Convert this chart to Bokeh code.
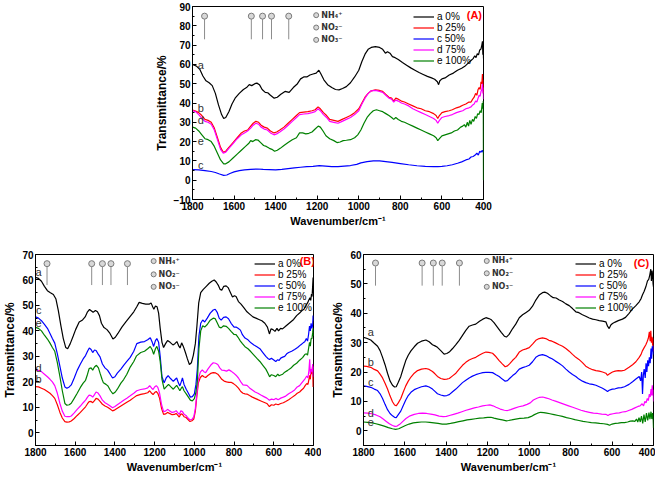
from bokeh.plotting import figure
from bokeh.models import Range1d, FixedTicker, Legend, LegendItem
from bokeh.layouts import column, row
from bokeh.embed import file_html
from bokeh.resources import INLINE
from bokeh.core.properties import value

FONT = "Liberation Sans"
COLORS = {"a": "#000000", "b": "#ff0000", "c": "#0000ff", "d": "#ff00ff", "e": "#008000"}
LEGEND_LABELS = {"a": "a 0%", "b": "b 25%", "c": "c 50%", "d": "d 75%", "e": "e 100%"}
X_TICKS = [1800, 1600, 1400, 1200, 1000, 800, 600, 400]
X_MINOR = [1700, 1500, 1300, 1100, 900, 700, 500]

# peak-marker wavenumbers (cm-1) and ion legend
MARK_W = [1742, 1517, 1463, 1420, 1337]
ION_LABELS = ["NH₄⁺", "NO₂⁻", "NO₃⁻"]

# ---------------- Panel A ----------------
A_a = [(1800,60),(1780,59),(1765,57.5),(1750,54),(1735,51.5),(1720,50.5),(1705,49),(1690,45),(1675,39),(1660,34),(1650,32),(1640,32.5),(1625,35.5),(1610,39.5),(1595,42.5),(1575,45),(1555,47),(1540,48),(1527,49.5),(1515,49),(1500,50),(1490,50.3),(1478,49.5),(1465,47),(1450,45.5),(1438,45.3),(1425,44),(1407,42.5),(1392,43),(1375,44.5),(1355,46),(1335,45.5),(1315,48),(1295,50),(1280,52.5),(1265,53.5),(1250,53.5),(1235,54.5),(1220,55),(1205,55.5),(1192,57),(1182,55),(1168,52),(1150,49.5),(1130,48),(1112,47),(1095,46.8),(1078,47.5),(1060,48.5),(1040,50.5),(1020,53.5),(1000,57),(985,61.5),(970,65.3),(955,67.8),(940,68.8),(920,69.2),(900,68.8),(885,67.8),(872,65.8),(862,66.6),(850,65.8),(838,64),(825,63.5),(810,62.5),(790,61),(770,59.6),(750,58.2),(730,57),(710,55.8),(690,54.8),(670,53.8),(650,53),(635,52.3),(622,51),(616,49.5),(610,51.5),(600,52.5),(585,53),(565,54.5),(545,55.5),(525,57),(505,58),(490,59),(475,60.5),(460,62),(450,63),(442,64.5),(436,63.5),(430,65.5),(424,65),(418,67.5),(412,68),(408,70),(405,72),(403,65),(401,69),(400,63)]
A_b = [(1800,36.3),(1785,35.8),(1770,35),(1755,33.5),(1740,31.5),(1725,31),(1710,30),(1695,27),(1680,22),(1665,17),(1652,14.5),(1640,15),(1625,17),(1605,19.5),(1585,22),(1565,24.5),(1550,25.5),(1535,26),(1520,28),(1508,29.5),(1495,30.5),(1482,30),(1470,28.5),(1455,27.5),(1440,27),(1425,25.5),(1408,24.5),(1395,25),(1380,26),(1360,27.5),(1340,29.5),(1320,31.5),(1300,33.5),(1285,35),(1265,35.3),(1245,35.5),(1225,36),(1210,36.5),(1196,38),(1185,37),(1170,35),(1155,33.5),(1140,31.5),(1120,31),(1100,30.5),(1080,31.5),(1060,32.5),(1040,33.5),(1020,35),(1000,37),(985,40),(970,43),(955,45),(940,46.3),(920,46.8),(900,46.5),(885,46),(870,44.5),(855,43),(842,42.5),(832,41),(822,42.5),(810,42),(795,41),(780,40.5),(760,39.5),(740,38.5),(720,37.5),(700,37),(680,36),(660,35.5),(640,34.5),(628,33.5),(620,32),(612,33.5),(600,35),(585,35.5),(565,36),(550,36.5),(530,37.5),(515,38),(500,38.8),(485,39.5),(470,40.5),(460,40.5),(452,42),(445,43),(438,45),(432,44),(426,47),(421,48),(416,47),(412,51),(408,50),(405,55),(403,48),(401,52),(400,45)]
A_c = [(1800,5.5),(1770,5.3),(1740,5),(1710,4.5),(1690,4),(1670,3.2),(1650,2.5),(1635,2.7),(1620,3.5),(1600,4.3),(1575,5),(1550,5.3),(1520,5.6),(1490,5.8),(1460,5.6),(1430,5.5),(1400,5.4),(1370,5.6),(1340,6),(1310,6.4),(1280,6.7),(1250,7),(1220,7.2),(1190,7.6),(1160,7.3),(1130,7),(1100,7),(1070,7.3),(1040,7.6),(1010,8.2),(990,9),(960,9.6),(930,10),(900,10),(870,9.6),(840,9.2),(800,8.6),(760,8),(720,7.5),(680,7.2),(640,7),(620,7),(600,7.2),(575,7.5),(550,8),(525,8.8),(505,9.5),(485,10.5),(470,11),(460,12),(450,12.3),(440,13),(432,14),(425,13),(418,15),(412,14.5),(406,15.5),(402,14.5),(400,15)]
A_d = [(1800,36),(1785,35.5),(1770,34),(1755,32),(1740,30.5),(1725,30),(1710,29),(1695,26),(1680,21),(1665,16),(1652,14),(1640,14.5),(1625,16.5),(1605,19),(1585,21.5),(1565,23.5),(1550,24.5),(1535,25.5),(1520,27),(1508,28.5),(1495,29.5),(1482,29),(1470,27.5),(1455,26.5),(1440,26),(1425,24.5),(1408,23.5),(1395,24),(1380,25),(1360,26.5),(1340,28.5),(1320,30.5),(1300,32.5),(1285,34),(1265,34.3),(1245,34.5),(1225,35),(1210,35.5),(1196,37),(1185,36),(1170,34),(1155,32.5),(1140,30.5),(1120,30),(1100,29.5),(1080,30.5),(1060,31.5),(1040,32.5),(1020,34),(1000,36),(985,39.5),(970,42.5),(955,45),(940,46.3),(920,46.5),(900,46),(885,45.5),(870,44),(855,42.5),(842,42),(832,40.5),(822,41.5),(810,41),(795,40),(780,39.5),(760,38.5),(740,37),(720,36),(700,35),(680,34),(660,33),(640,32),(628,31),(620,29.5),(612,31),(600,32.5),(585,33),(565,33.5),(550,34),(530,35),(515,35.5),(500,36),(485,37),(470,37.5),(460,38),(452,39),(445,39.5),(438,41),(432,40.5),(426,42.5),(421,44),(416,43.5),(412,46),(408,47),(405,50),(403,45),(401,48),(400,42)]
A_e = [(1800,27.5),(1785,27),(1770,25.5),(1755,23.5),(1740,21.5),(1725,21),(1710,20),(1695,17.5),(1680,14),(1665,10.5),(1650,8.5),(1640,8.5),(1625,9.5),(1605,11.5),(1585,13.5),(1565,15.5),(1545,17.5),(1530,19),(1520,20.5),(1510,20),(1497,21),(1485,20.8),(1472,19.5),(1458,18),(1445,17.5),(1430,16.5),(1418,16),(1405,15),(1392,15.5),(1378,16.5),(1360,18),(1340,19.5),(1320,21),(1300,22),(1285,24.5),(1270,24.5),(1255,24),(1240,24.3),(1225,25),(1210,26.5),(1195,28),(1185,27.5),(1172,25.5),(1158,23),(1140,21.5),(1120,20.5),(1105,19.5),(1090,19.8),(1075,20.5),(1060,20.7),(1040,21),(1020,22),(1005,23.5),(990,26),(975,29.5),(960,32.5),(945,34.5),(930,36),(915,36.5),(900,36),(885,35.5),(870,34.5),(855,33.5),(842,32.5),(832,31.5),(822,32.5),(810,31.5),(795,30.5),(780,30),(760,29),(740,28),(720,27),(700,26),(680,25),(660,24),(640,23),(628,22),(620,20.5),(612,21.5),(600,23),(585,23.5),(570,24),(555,24.5),(540,25.5),(525,26),(510,27.5),(500,28),(492,28.8),(485,27.5),(478,30),(472,28),(466,31),(460,29),(453,31.5),(447,30.5),(440,33),(434,32),(428,34.5),(422,34),(416,36),(411,35),(406,40),(403,37),(401,41),(400,0)]

# ---------------- Panel B ----------------
B_a = [(1800,61),(1785,60.6),(1770,59.5),(1755,57.5),(1740,55.8),(1725,55),(1710,54.3),(1697,52.5),(1685,48),(1672,42),(1660,37),(1648,33.5),(1638,33),(1625,35),(1610,38),(1598,40.5),(1580,43.5),(1563,44.3),(1550,45.5),(1538,47.5),(1528,48.4),(1518,47.8),(1510,47.3),(1498,48),(1488,47.5),(1478,46),(1468,43),(1455,41.3),(1440,40.5),(1425,39),(1410,36.8),(1398,37.5),(1385,39),(1365,41.5),(1345,43.5),(1325,45.5),(1305,47.5),(1290,49.5),(1278,51.2),(1262,50.8),(1245,50.5),(1228,50.5),(1218,51),(1210,49.5),(1204,48.5),(1196,49.8),(1188,49.5),(1180,47),(1172,41),(1163,35.5),(1155,33.5),(1145,35),(1135,36.2),(1122,35.5),(1108,34.5),(1098,35),(1088,35.8),(1078,34),(1072,33.3),(1064,35.3),(1056,34),(1045,31.5),(1035,29),(1025,26.8),(1015,27.5),(1005,30.5),(995,35),(987,42),(978,51),(968,55),(955,56.3),(940,57.5),(925,58.7),(912,59.5),(900,60),(890,59.2),(880,58),(870,56.3),(862,56),(852,57.5),(840,57.7),(830,57),(818,55),(808,53.3),(798,53.8),(790,53.5),(778,51.5),(765,50.5),(750,49),(735,47.5),(720,46.5),(705,45.5),(690,45),(675,44.5),(660,44),(645,43),(632,41.5),(622,38.8),(614,40.8),(604,40.5),(594,39.8),(584,41),(576,40),(566,41),(556,40.8),(545,41.5),(530,42.5),(515,43.5),(500,44.5),(485,46),(470,47),(458,48),(448,48.5),(438,50),(430,51),(424,52),(418,53),(414,52),(410,54.5),(407,53.5),(404,58),(402,61),(400,55)]
B_b = [(1800,18.1),(1785,18),(1770,17.5),(1755,17),(1740,16.2),(1727,15.5),(1715,14.6),(1703,13.5),(1690,11),(1677,8),(1665,5.8),(1652,4.4),(1642,4.2),(1630,4.3),(1620,4.6),(1605,5.6),(1590,6.8),(1574,8),(1560,9.2),(1548,10.2),(1538,11.4),(1530,12.2),(1520,12.3),(1512,11.8),(1503,12.6),(1495,13.5),(1485,13.2),(1475,12.3),(1463,11.2),(1450,10.5),(1437,10),(1424,9.3),(1412,8.6),(1400,9),(1388,9.6),(1370,10.5),(1356,11.2),(1340,12),(1323,12.8),(1305,13.8),(1290,14.6),(1270,15.1),(1251,15.4),(1235,15.7),(1225,16.5),(1215,15.5),(1208,15),(1200,15.8),(1192,16.2),(1184,15.5),(1175,13.5),(1165,9.5),(1155,7.2),(1145,7.4),(1135,8),(1125,7.6),(1112,7.1),(1100,7.2),(1092,7.6),(1083,6.8),(1076,6.2),(1068,7.4),(1060,7.2),(1052,6.3),(1042,6),(1032,5.2),(1022,4.4),(1012,4.7),(1003,5.4),(995,8.5),(988,14),(980,19.5),(970,21.7),(960,22.5),(952,22),(943,21.7),(932,22.5),(918,23.3),(905,23.6),(893,23.5),(882,23),(872,22),(862,21),(850,20.3),(838,20),(826,19.8),(815,19.8),(803,19.3),(790,18.5),(778,17.5),(766,16.2),(755,15.5),(745,15.3),(735,15.2),(722,14.6),(708,14),(694,13.5),(680,13),(665,12.5),(650,12),(635,11.5),(622,10.3),(612,11),(600,10.8),(590,11.3),(578,11),(565,11.5),(552,11.8),(540,12.3),(525,13),(510,13.8),(495,14.6),(482,15.5),(470,16),(460,16.8),(450,17.5),(442,18.5),(434,19.3),(428,19),(423,21),(419,22.5),(416,21),(412,25),(408,23),(404,26.5),(402,18),(400,22)]
B_c = [(1800,45.5),(1785,45),(1770,44),(1755,42.6),(1740,41),(1727,39),(1715,37),(1703,35.2),(1690,31),(1678,26.5),(1665,21.5),(1652,18),(1642,17.5),(1630,18),(1620,18.8),(1605,21.5),(1590,24.5),(1574,27),(1560,29),(1548,30.3),(1538,32),(1529,33.3),(1520,32.7),(1512,31.5),(1503,32.5),(1495,32.3),(1485,31),(1475,29.8),(1463,27),(1450,25.5),(1437,24.6),(1424,23),(1412,21.5),(1400,22),(1388,23.4),(1370,25),(1356,26.5),(1340,28),(1323,29.6),(1305,32),(1290,35),(1270,35.6),(1251,35.8),(1235,36.5),(1222,37.3),(1212,35.5),(1205,33.9),(1196,36.2),(1189,37),(1180,35.5),(1172,30),(1163,22),(1152,19.6),(1142,21.5),(1132,22.4),(1120,21.3),(1106,20.2),(1096,21),(1089,21.5),(1080,19.5),(1073,18.4),(1066,20),(1060,21.5),(1052,19),(1041,17.1),(1030,15.5),(1020,14),(1010,14.2),(1000,15.3),(992,19),(985,25),(977,38),(968,43),(958,44.3),(948,43.5),(935,45),(920,47),(905,48.2),(895,48.5),(885,47.3),(875,45),(865,44.2),(853,45.3),(840,45.5),(828,44.8),(815,43),(800,41.5),(790,41.5),(780,41),(768,40.3),(758,38.5),(745,37.2),(730,36.5),(715,35.3),(700,34.5),(685,33.8),(670,33),(655,31.5),(640,30),(630,29.2),(621,28.8),(612,29.3),(600,28.6),(590,28),(580,28.7),(573,28.4),(565,29.3),(555,29.7),(545,30),(535,31),(525,31.5),(510,32),(495,32.7),(480,33.5),(465,34.5),(452,35.3),(444,35.7),(436,37),(430,36),(425,38.5),(420,41.9),(416,40),(412,43),(408,41),(404,42.5),(402,46),(400,44)]
B_d = [(1800,24.6),(1785,24.5),(1770,24),(1755,23),(1740,22),(1727,21),(1715,20),(1703,18.5),(1690,15.5),(1677,11.5),(1665,8.5),(1652,6.5),(1642,6.3),(1630,6.3),(1620,6.6),(1605,7.8),(1590,9.2),(1574,10.5),(1560,11.8),(1548,12.8),(1538,14),(1530,14.8),(1520,14.6),(1512,14),(1503,15),(1495,16),(1485,15.6),(1475,14.5),(1463,12.8),(1450,11.8),(1437,11.2),(1424,10.5),(1412,9.8),(1400,10.3),(1388,11),(1370,12),(1356,12.8),(1340,13.6),(1323,14.5),(1305,15.5),(1290,16.5),(1270,17),(1251,17.2),(1235,17.6),(1225,18.5),(1215,17.5),(1208,17),(1200,18),(1192,18.5),(1184,17.8),(1175,15.5),(1165,11),(1155,8.3),(1145,8.5),(1135,9.2),(1125,8.6),(1112,8),(1100,8.2),(1092,8.7),(1083,7.8),(1076,7.2),(1068,8.6),(1060,8.3),(1052,7.3),(1042,6.8),(1032,5.8),(1022,5),(1012,5.3),(1003,6.2),(995,9.5),(988,15),(980,21),(970,23.8),(960,24.7),(952,24),(943,23.6),(932,25),(918,26.5),(905,27.5),(893,27.3),(882,26.8),(872,25.5),(862,24.6),(850,24.5),(838,24.2),(826,24.7),(815,24.2),(803,23.5),(790,22.6),(778,21.5),(766,20),(755,18.8),(745,18.7),(735,18.6),(722,17.6),(708,16.8),(694,16),(680,15.5),(665,14.8),(650,14.2),(635,13.6),(622,12.8),(612,13.2),(600,13),(590,13.5),(578,13),(565,13.6),(552,14),(540,14.4),(525,15.3),(510,16),(495,16.8),(482,18),(470,18.5),(460,19.5),(450,20.5),(442,21.3),(434,22.3),(428,21.5),(423,24.5),(419,28.9),(416,23),(412,25),(408,24),(404,27),(402,22),(400,26)]
B_e = [(1800,41.4),(1785,41),(1770,40),(1755,38.3),(1740,36.8),(1727,35.2),(1715,33.5),(1703,32),(1690,27.5),(1677,22),(1665,16.5),(1652,11.5),(1642,10.8),(1630,11),(1620,11.6),(1605,13.5),(1590,15.5),(1574,17.8),(1560,19.5),(1548,20.6),(1538,23),(1530,25.2),(1520,25.5),(1512,24.6),(1503,25.8),(1493,26.5),(1483,25.5),(1475,23.4),(1465,21),(1458,19.6),(1445,19),(1435,18.4),(1422,16.5),(1410,15.3),(1398,16),(1388,17.1),(1370,19.5),(1356,20.9),(1340,23),(1323,25.8),(1305,28),(1291,30.2),(1270,31.5),(1251,32),(1235,33),(1222,33.9),(1212,32.5),(1205,30.8),(1196,33),(1189,33.9),(1180,32),(1172,28),(1163,21),(1152,17.1),(1142,18),(1130,19),(1118,18),(1106,17.1),(1096,18),(1089,18.6),(1080,17.5),(1073,16.5),(1066,17.5),(1060,18.1),(1052,16.5),(1041,15.3),(1030,14),(1020,12.8),(1010,12.5),(1000,13.4),(992,16),(985,20.2),(977,33),(968,40),(958,42),(948,41.5),(935,42.5),(920,44.2),(905,45),(895,44.8),(885,43.2),(875,41.5),(865,41.2),(853,42),(840,41.8),(828,41),(815,39.8),(800,38.6),(790,38.5),(780,37.5),(768,36),(758,35),(745,33.8),(730,33),(715,31.8),(700,30.5),(685,29.2),(670,28),(655,26.5),(640,25),(630,23.5),(621,22),(612,22.8),(600,22.5),(590,22),(580,23),(573,22.4),(565,22.7),(555,23),(545,23.8),(530,24.5),(515,25.3),(500,26.5),(485,27.3),(470,28.5),(455,29.5),(444,30.7),(436,31),(430,30.5),(425,33),(420,35.5),(416,34),(412,37),(408,36.9),(404,39.4),(402,41),(400,38)]

# ---------------- Panel C ----------------
C_a = [(1800,31.8),(1785,31.5),(1765,30.9),(1748,29.8),(1732,28.8),(1720,27.3),(1708,25),(1696,22.5),(1684,19.6),(1672,17),(1660,15.5),(1650,14.9),(1642,15),(1632,16.5),(1620,18.5),(1608,21.3),(1596,23.9),(1584,25.7),(1571,27.2),(1555,28.6),(1539,29.8),(1520,30.5),(1499,30.9),(1483,30.3),(1467,29.3),(1455,28.9),(1443,28.4),(1427,27.3),(1411,26.1),(1398,26.3),(1386,26.8),(1370,28),(1354,29.3),(1338,30.8),(1322,32.5),(1306,34.2),(1290,35.6),(1274,36),(1258,36.3),(1240,37.3),(1224,38),(1209,38.5),(1195,38.2),(1185,37.9),(1170,36.8),(1153,35.2),(1135,33.5),(1120,32.2),(1110,31.9),(1097,32.8),(1080,34.8),(1065,36.3),(1048,38.5),(1032,39.5),(1015,40.3),(1000,41),(984,42.4),(968,44.5),(952,46.2),(936,47),(925,47.2),(912,46.8),(898,46),(884,45.3),(870,45.2),(855,44.5),(839,44),(823,43.2),(807,42.6),(791,41.6),(775,40.5),(760,40.2),(743,39.5),(727,39),(710,38.4),(694,38),(678,37.8),(662,37.5),(646,37.3),(630,37.1),(622,35.6),(614,34.8),(606,36),(598,36.5),(585,37),(570,37.5),(550,38),(535,38.6),(518,40),(501,41.5),(485,42.6),(469,43.9),(460,45),(453,46.3),(445,47.5),(437,49),(429,51),(423,51.5),(418,53),(413,55),(410,51),(407,54.5),(404,53),(402,50),(400,49)]
C_b = [(1800,22),(1785,21.9),(1765,21.6),(1748,20.9),(1732,20.4),(1720,19.3),(1708,18),(1696,16.2),(1684,14.2),(1672,11.9),(1660,9.9),(1650,8.8),(1642,8.5),(1632,9.5),(1620,11),(1608,13.2),(1596,15.3),(1584,16.9),(1571,18.3),(1555,19.6),(1539,20.5),(1520,21),(1499,21.2),(1483,20.9),(1467,20.2),(1455,19.4),(1443,18.5),(1427,17.8),(1411,17.5),(1398,17.6),(1386,17.8),(1370,18.7),(1354,19.6),(1338,21),(1322,22.3),(1306,23.3),(1290,24.1),(1274,24.6),(1258,25),(1240,25.8),(1224,26.4),(1209,26.8),(1195,26.7),(1177,26.4),(1160,25.2),(1145,23.9),(1130,22.8),(1116,21.8),(1105,22.1),(1095,22.8),(1080,24),(1065,25),(1048,26.8),(1032,27.5),(1015,27.9),(1000,28.3),(984,29.5),(968,30.8),(952,31.4),(936,31.6),(920,31.4),(905,30.8),(890,30.5),(875,30),(855,29.3),(839,28.8),(823,28),(807,27.1),(791,26),(775,25),(760,24.3),(743,23.2),(727,22),(710,21.3),(694,20.8),(678,20.5),(662,20.3),(646,20),(630,19.6),(622,18.9),(614,19.3),(606,19.7),(598,20),(585,20.3),(570,20.5),(555,20.4),(540,20.6),(518,21.6),(501,22.5),(485,23.5),(469,25),(460,26),(453,27.3),(445,28.3),(437,29.3),(430,30.5),(425,31.5),(420,33.7),(416,30.5),(413,34),(410,30),(407,32),(404,29),(402,31.5),(400,27)]
C_c = [(1800,15.3),(1785,15.1),(1765,14.8),(1748,14.2),(1732,13.7),(1720,12.6),(1708,11),(1696,9),(1684,7.2),(1672,5.9),(1660,5.1),(1650,4.6),(1642,4.5),(1632,5.5),(1620,6.7),(1608,8.6),(1596,10.5),(1584,12),(1571,13.1),(1555,14),(1539,14.5),(1520,15),(1499,15.3),(1483,14.9),(1467,14.2),(1455,13.4),(1443,12.6),(1427,12.2),(1411,11.9),(1398,12),(1386,12.3),(1370,13.3),(1354,14.2),(1338,15.3),(1322,16.4),(1306,17.2),(1290,18),(1274,18.6),(1258,19.1),(1240,19.5),(1224,19.8),(1209,19.9),(1195,19.9),(1177,19.8),(1160,19.1),(1145,18.5),(1130,17.6),(1116,16.9),(1105,17.1),(1095,17.8),(1080,18.8),(1065,19.6),(1048,21),(1032,21.5),(1015,21.9),(1000,22.3),(984,23.5),(968,25),(952,25.7),(936,25.9),(920,25.6),(905,25),(890,24.5),(875,23.8),(855,22.9),(839,22.1),(823,21),(807,20),(791,19.2),(775,18.5),(760,17.6),(743,16.9),(727,16.4),(710,16),(694,15.8),(678,15.5),(662,15),(646,14.5),(630,13.8),(622,13.4),(614,13.8),(606,14),(598,14.2),(585,14.3),(570,14.6),(555,14.7),(540,15),(518,15.8),(501,16.7),(485,17.6),(469,18.5),(462,17),(457,20),(453,12.5),(449,19),(445,21),(440,18),(436,23),(432,20),(428,24),(424,22),(420,25),(416,23),(412,28),(409,24.5),(406,28.8),(403,27),(401,29),(400,26)]
C_d = [(1800,6.1),(1780,6),(1760,5.8),(1740,5.4),(1720,4.8),(1705,4),(1690,3.2),(1675,2.4),(1660,1.8),(1648,1.5),(1638,1.6),(1625,2.2),(1610,3.2),(1595,4.2),(1575,5.1),(1555,5.6),(1535,5.9),(1515,6),(1495,5.9),(1475,5.7),(1455,5.4),(1435,5),(1415,4.8),(1400,4.9),(1385,5.2),(1365,5.6),(1345,6),(1325,6.5),(1305,7),(1285,7.4),(1265,7.8),(1245,8.1),(1225,8.5),(1205,8.7),(1190,8.8),(1175,8.5),(1160,8),(1140,7.4),(1120,7),(1105,6.9),(1090,7.2),(1070,7.7),(1050,8.2),(1030,8.5),(1010,9),(995,9.5),(980,10.5),(965,11),(950,11.4),(935,11.5),(920,11.2),(905,10.9),(890,10.5),(870,10),(850,9.5),(830,9),(810,8.5),(790,8),(770,7.5),(750,7),(730,6.6),(710,6.3),(690,6),(670,5.9),(650,5.7),(630,5.6),(620,5.2),(610,5.6),(595,5.8),(580,6),(565,6.1),(550,6.4),(535,6.5),(520,6.9),(505,7.3),(490,7.8),(475,8.3),(465,8.5),(455,9.2),(448,8.5),(442,10),(436,9.5),(430,11),(425,10.3),(420,12.5),(416,11.5),(412,14.2),(409,12),(406,15.5),(403,12),(401,14),(400,10)]
C_e = [(1800,3),(1780,2.9),(1760,2.7),(1740,2.4),(1720,2),(1700,1.6),(1680,1.1),(1660,0.7),(1645,0.5),(1630,0.7),(1615,1.2),(1600,1.7),(1580,2.3),(1560,2.7),(1540,2.9),(1520,3),(1500,3),(1480,2.9),(1460,2.7),(1440,2.5),(1420,2.3),(1400,2.3),(1380,2.5),(1360,2.8),(1340,3.1),(1320,3.4),(1300,3.7),(1280,3.9),(1260,4.1),(1240,4.3),(1220,4.4),(1200,4.6),(1185,4.6),(1170,4.3),(1150,4),(1130,3.7),(1110,3.4),(1100,3.5),(1085,3.7),(1065,4),(1045,4.2),(1025,4.3),(1005,4.5),(990,4.9),(975,5.5),(960,6),(945,6.3),(930,6.2),(915,6),(900,5.8),(880,5.5),(860,5.2),(840,4.9),(820,4.5),(800,4.2),(780,3.8),(760,3.5),(740,3.2),(720,3),(700,2.8),(680,2.7),(660,2.5),(640,2.4),(622,2.2),(612,1.9),(600,2.3),(585,2.5),(570,2.6),(555,2.8),(540,2.8),(525,3),(512,3.3),(500,3.4),(490,3.2),(482,4),(476,3),(470,4.5),(464,3),(458,5),(452,2.5),(446,5.5),(440,3),(434,6),(428,3.5),(422,6.2),(417,4),(412,6.5),(408,4),(404,6),(402,5),(400,1)]

# ------------- per-panel annotation values -------------
A_Y = dict(rng=(-10, 90), ticks=list(range(-10, 91, 10)), minor=list(range(-5, 90, 10)),
           mark=(85, 83.5, 73), ions=(85.5, 79.1, 72.7), tag="(A)", tag_xy=(444, 85.4),
           letters=["a", "b", "d", "e", "c"], letter_x=1760, letter_y=[59.5, 37.5, 31, 20.3, 8])
B_Y = dict(rng=(-5, 70), ticks=list(range(0, 71, 10)), minor=list(range(-5, 70, 10)),
           mark=(66.4, 65.3, 58), ions=(67.4, 62.2, 57.3), tag="(B)", tag_xy=(431, 67.6),
           letters=["a", "c", "e", "d", "b"], letter_x=1784, letter_y=[63, 48.1, 43.1, 25.4, 21.1])
C_Y = dict(rng=(-5, 60), ticks=list(range(0, 61, 10)), minor=list(range(-5, 60, 10)),
           mark=(57.1, 56, 49.4), ions=(57.8, 53.6, 49.0), tag="(C)", tag_xy=(458, 57.1),
           letters=["a", "b", "c", "d", "e"], letter_x=1765, letter_y=[33.6, 23.4, 16.7, 6.1, 2.9])


def make_panel(curves, cfg, fw, fh, borders, leg_xy):
    lo, hi = cfg["rng"]
    L, R, T, B = borders
    p = figure(width=L + fw + R, height=T + fh + B, x_range=Range1d(1800, 400), y_range=Range1d(lo, hi),
               output_backend="svg", toolbar_location=None,
               min_border_left=L, min_border_right=R, min_border_top=T, min_border_bottom=B)
    p.grid.visible = False
    p.outline_line_color = "black"
    p.outline_line_width = 1
    p.border_fill_color = "white"
    p.xaxis.ticker = FixedTicker(ticks=X_TICKS, minor_ticks=X_MINOR)
    p.yaxis.ticker = FixedTicker(ticks=cfg["ticks"], minor_ticks=cfg["minor"])
    p.xaxis.axis_label = "Wavenumber/cm⁻¹"
    p.yaxis.axis_label = "Transmittance/%"
    for ax in (p.xaxis[0], p.yaxis[0]):
        ax.major_tick_in = 4
        ax.major_tick_out = 0
        ax.minor_tick_in = 2
        ax.minor_tick_out = 0
        ax.axis_line_color = "black"
        ax.major_tick_line_color = "black"
        ax.minor_tick_line_color = "black"
        ax.major_label_text_font = FONT
        ax.major_label_text_font_style = "bold"
        ax.major_label_text_font_size = "10px"
        ax.major_label_text_color = "black"
        ax.major_label_standoff = 2
        ax.axis_label_text_font = FONT
        ax.axis_label_text_font_style = "bold"
        ax.axis_label_text_color = "black"
        ax.axis_label_standoff = 2
    p.xaxis.axis_label_text_font_size = "11px"
    p.yaxis.axis_label_text_font_size = "12px"

    items = []
    for key in ["a", "b", "c", "d", "e"]:
        pts = curves[key]
        r = p.line([w for w, v in pts], [v for w, v in pts], line_color=COLORS[key], line_width=1.2)
        items.append(LegendItem(label=LEGEND_LABELS[key], renderers=[r]))

    leg = Legend(items=items, location=leg_xy, padding=0, margin=0, spacing=0,
                 label_height=11, glyph_height=11, glyph_width=21, label_standoff=3,
                 label_text_font=FONT, label_text_font_size="10px", label_text_color="black",
                 background_fill_alpha=0, border_line_alpha=0)
    p.add_layout(leg)

    my, y0, y1 = cfg["mark"]
    p.segment(x0=MARK_W, y0=[y0] * len(MARK_W), x1=MARK_W, y1=[y1] * len(MARK_W),
              line_color="#8c8c8c", line_width=1)
    p.scatter(x=MARK_W, y=[my] * len(MARK_W), marker="circle", size=6,
              line_color="#7a7a7a", fill_color="#d8d8d8", line_width=1)
    p.scatter(x=[1205] * 3, y=list(cfg["ions"]), marker="circle", size=5,
              line_color="#7a7a7a", fill_color="#d8d8d8", line_width=1)
    p.text(x=[1180] * 3, y=list(cfg["ions"]), text=ION_LABELS, text_font=value("DejaVu Sans"),
           text_font_style="bold", text_font_size="8px", text_color="#333333",
           text_align="left", text_baseline="middle")
    p.text(x=[cfg["letter_x"]] * 5, y=cfg["letter_y"], text=cfg["letters"], text_font=value(FONT),
           text_font_size="11px", text_color="#333333", text_align="center", text_baseline="middle")
    p.text(x=[cfg["tag_xy"][0]], y=[cfg["tag_xy"][1]], text=[cfg["tag"]], text_font=value(FONT),
           text_font_style="bold", text_font_size="11px", text_color="#ff0000",
           text_align="center", text_baseline="middle")
    return p


pA = make_panel(dict(a=A_a, b=A_b, c=A_c, d=A_d, e=A_e), A_Y, 291, 193, (192, 10, 6, 38), (221, 133))
pB = make_panel(dict(a=B_a, b=B_b, c=B_c, d=B_d, e=B_e), B_Y, 283, 195, (30, 8, 17, 26), (219, 132))
pC = make_panel(dict(a=C_a, b=C_b, c=C_c, d=C_d, e=C_e), C_Y, 290, 195, (42, 2, 17, 26), (212, 132))

layout = column(pA, row(pB, pC))
open("out.html", "w").write(file_html(layout, INLINE))
